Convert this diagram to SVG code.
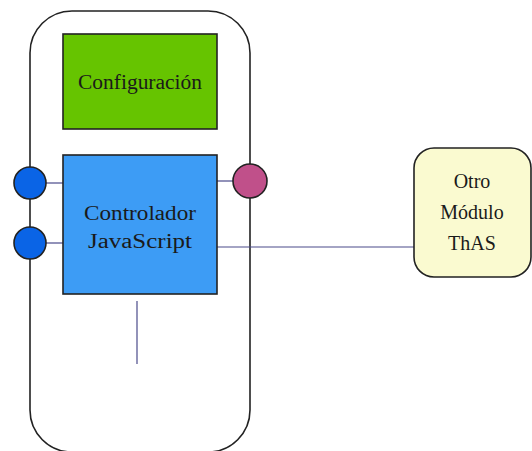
<svg xmlns="http://www.w3.org/2000/svg" width="532" height="451" viewBox="0 0 532 451">
<style>
.t{font-family:'Liberation Serif','DejaVu Serif',serif;font-size:20px;fill:#1a1a1a;text-anchor:middle}
.ln{stroke:#4a4a8a;stroke-width:1.2;fill:none}
.edge{stroke:#222;stroke-width:1.6}
</style>
<rect width="532" height="451" fill="#fff"/>
<g id="contenedor"><rect x="30" y="11" width="220" height="441" rx="42" fill="#fff" class="edge"/></g>
<g id="connectors">
<line class="ln" x1="46" y1="183" x2="63" y2="183"/>
<line class="ln" x1="46" y1="243" x2="63" y2="243"/>
<line class="ln" x1="217" y1="181" x2="233" y2="181"/>
<line class="ln" x1="217" y1="247" x2="414" y2="247"/>
<line class="ln" x1="137" y1="301" x2="137" y2="364"/>
</g>
<g id="configuracion"><rect x="63" y="34" width="154" height="95" fill="#66c400" class="edge"/><text class="t" x="140" y="89" textLength="124" lengthAdjust="spacingAndGlyphs">Configuración</text></g>
<g id="controlador"><rect x="63" y="155" width="154" height="139" fill="#3d9cf5" class="edge"/><text class="t" x="140" y="220" textLength="112" lengthAdjust="spacingAndGlyphs">Controlador</text><text class="t" x="140" y="248" textLength="104" lengthAdjust="spacingAndGlyphs">JavaScript</text></g>
<g id="puerto1"><circle cx="30" cy="183" r="16" fill="#0a64e6" class="edge"/></g>
<g id="puerto2"><circle cx="30" cy="243" r="16" fill="#0a64e6" class="edge"/></g>
<g id="puerto3"><circle cx="250" cy="181" r="17" fill="#c0508a" class="edge"/></g>
<g id="otro"><rect x="414" y="148" width="117" height="129" rx="20" fill="#fafad0" class="edge"/><text class="t" x="472" y="188">Otro</text><text class="t" x="472" y="219">Módulo</text><text class="t" x="472" y="250">ThAS</text></g>
</svg>
